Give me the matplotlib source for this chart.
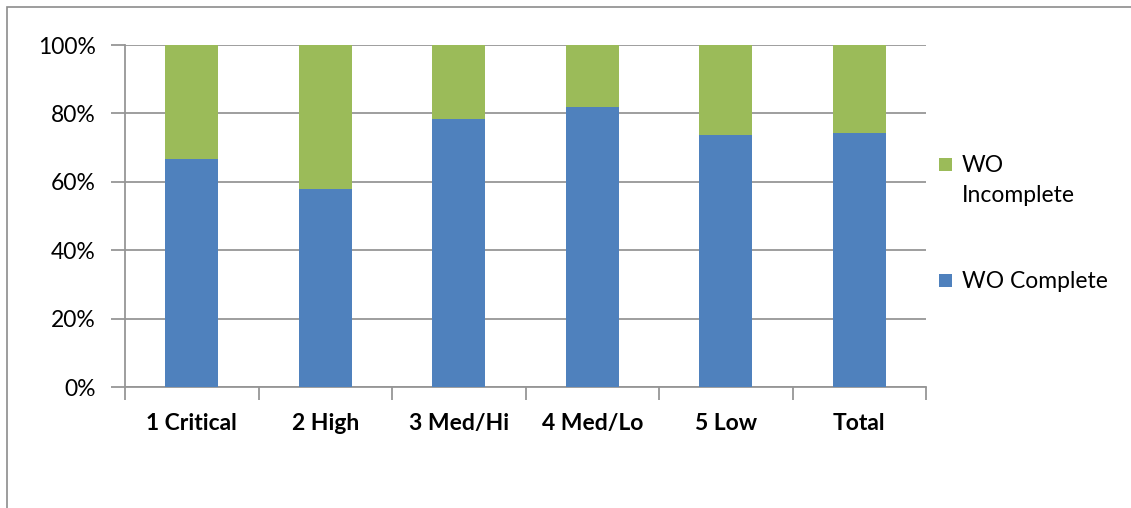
import numpy as np
import matplotlib.pyplot as plt
from matplotlib.patches import Rectangle

plt.rcParams['font.family'] = ['Lato', 'DejaVu Sans']

categories = ["1 Critical", "2 High", "3 Med/Hi", "4 Med/Lo", "5 Low", "Total"]
complete = [66.8, 57.9, 78.5, 82.0, 73.7, 74.3]
incomplete = [100 - v for v in complete]

blue = "#4f81bd"
green = "#9bbb59"
grid_gray = "#969696"

W, H = 1131, 508
fig = plt.figure(figsize=(W / 100, H / 100), dpi=100)
ax = fig.add_axes([125 / W, 1 - 387 / H, (926 - 125) / W, (387 - 45) / H])

x = np.arange(len(categories))
ax.bar(x, complete, width=0.4, color=blue, zorder=3)
ax.bar(x, incomplete, width=0.4, bottom=complete, color=green, zorder=3)

ax.set_xlim(-0.5, len(categories) - 0.5)
ax.set_ylim(0, 100)
ax.set_yticks(np.arange(0, 101, 20))
ax.set_yticklabels([f"{v}%" for v in range(0, 101, 20)], fontsize=16.5)
ax.yaxis.grid(True, color=grid_gray, linewidth=1.3, zorder=0)

# category labels centred on bars, tick marks on the boundaries
ax.set_xticks(x)
ax.set_xticklabels(categories, fontsize=16.5, fontweight="bold")
ax.tick_params(axis="x", length=0, pad=19)
ax.set_xticks(np.arange(-0.5, len(categories)), minor=True)
ax.tick_params(axis="x", which="minor", length=9, width=1.3, color=grid_gray)
ax.tick_params(axis="y", length=10, width=1.3, color=grid_gray, pad=11)

for side in ["top", "right"]:
    ax.spines[side].set_visible(False)
for side in ["left", "bottom"]:
    ax.spines[side].set_color(grid_gray)
    ax.spines[side].set_linewidth(1.3)

# legend, drawn in figure pixels: swatch beside the first line of each label
def px(xp, yp):
    return xp / W, 1 - yp / H

legend_items = [(green, ["WO", "Incomplete"], 164), (blue, ["WO Complete"], 280)]
for color, lines, yc in legend_items:
    sx, sy = px(939, yc + 6.5)
    fig.patches.append(Rectangle((sx, sy), 13 / W, 13 / H, transform=fig.transFigure,
                                 facecolor=color, edgecolor="none"))
    for i, line in enumerate(lines):
        tx, ty = px(962, yc + 1 + i * 30)
        fig.text(tx, ty, line, fontsize=16.5, va="center", ha="left")

# outer chart frame
fig.patches.append(Rectangle((7 / W, -0.1), 1.2, (H - 7) / H + 0.1,
                             transform=fig.transFigure, fill=False,
                             edgecolor="#8c8c8c", linewidth=1.2))

fig.savefig("out.png", dpi=100)
